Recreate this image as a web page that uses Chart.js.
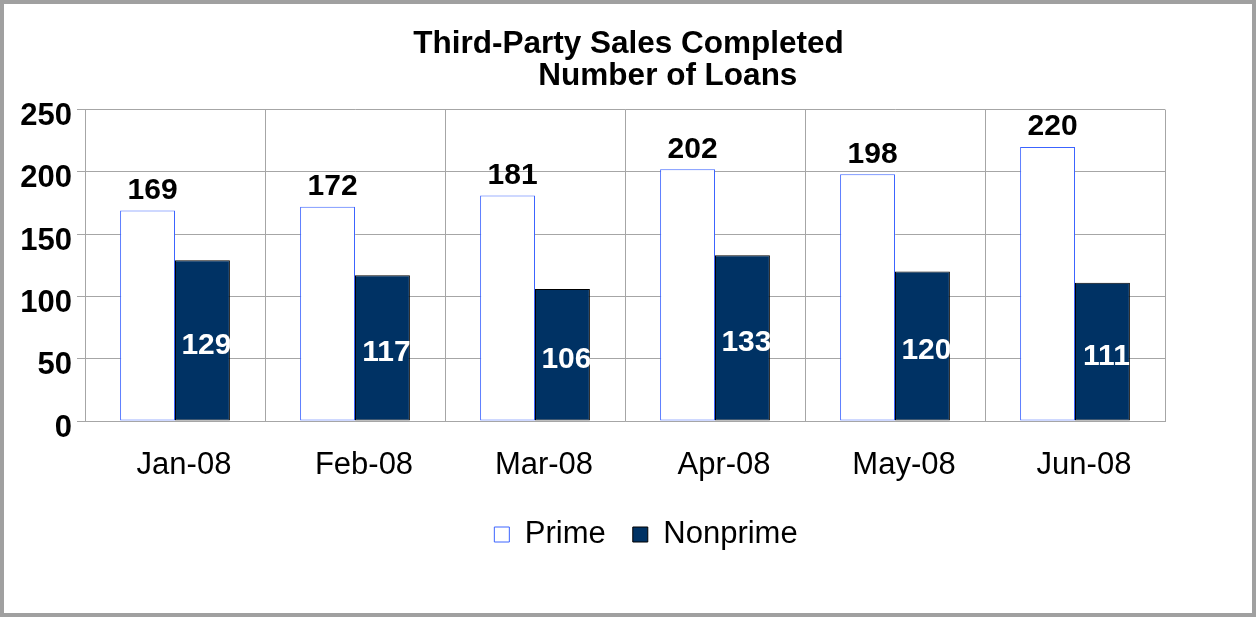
<!DOCTYPE html>
<html>
<head>
<meta charset="utf-8">
<script src="https://cdn.jsdelivr.net/npm/chart.js@4"></script>
<style>
    body { margin: 0; background: #fff; }
    #frame {
        width: 1256px; height: 617px; box-sizing: border-box;
        border: 4px solid #a0a0a0; overflow: hidden; position: relative; background: #fff;
    }
    #salesChart { position: absolute; left: 0; top: 0; }
</style>
</head>
<body>
<div id="frame"><canvas id="salesChart" width="1284" height="609"></canvas></div>
<script>
// Chart data
const months = ['Jan-08', 'Feb-08', 'Mar-08', 'Apr-08', 'May-08', 'Jun-08'];
const primeLoans = [169, 172, 181, 202, 198, 220];
const nonprimeLoans = [129, 117, 106, 133, 120, 111];
const yTicks = [0, 50, 100, 150, 200, 250];

const FONT = '"Liberation Sans", Arial, sans-serif';
const GRID = '#a6a6a6';

// value labels: black above Prime bars, white inside Nonprime bars
const barLabels = {
    id: 'barLabels',
    afterDatasetsDraw(chart) {
        const ctx = chart.ctx;
        ctx.save();
        ctx.font = 'bold 30px ' + FONT;
        ctx.textAlign = 'center';
        ctx.textBaseline = 'middle';
        chart.getDatasetMeta(0).data.forEach((bar, i) => {
            ctx.fillStyle = '#000';
            ctx.fillText(primeLoans[i], bar.x + 5, bar.y - 20);
        });
        chart.getDatasetMeta(1).data.forEach((bar, i) => {
            ctx.save();
            ctx.beginPath();
            ctx.rect(bar.x - bar.width / 2, bar.y, bar.width, bar.base - bar.y);
            ctx.clip();
            ctx.fillStyle = '#fff';
            ctx.fillText(nonprimeLoans[i], bar.x + 4, (bar.y + bar.base) / 2 + 5);
            ctx.restore();
        });
        ctx.restore();
    }
};

new Chart(document.getElementById('salesChart').getContext('2d'), {
    type: 'bar',
    data: {
        labels: months,
        datasets: [{
            label: 'Prime',
            data: primeLoans,
            backgroundColor: '#ffffff',
            borderColor: '#3c64ff',
            borderWidth: 1,
            borderSkipped: false,
            barPercentage: 1,
            categoryPercentage: 0.61
        }, {
            label: 'Nonprime',
            data: nonprimeLoans,
            backgroundColor: '#003264',
            borderColor: '#000000',
            borderWidth: 1,
            borderSkipped: false,
            barPercentage: 1,
            categoryPercentage: 0.61
        }]
    },
    options: {
        responsive: false,
        animation: false,
        layout: { padding: { left: 0, right: 0, top: 0, bottom: 53 } },
        plugins: {
            title: {
                display: true,
                text: ['Third-Party Sales Completed    ', '     Number of Loans'],
                color: '#000',
                font: { family: FONT, size: 31.5, weight: 'bold', lineHeight: 1.025 },
                padding: { top: 24, bottom: 17 }
            },
            legend: {
                position: 'bottom',
                labels: {
                    color: '#000',
                    font: { family: FONT, size: 31 },
                    boxWidth: 15,
                    boxHeight: 15,
                    padding: 27
                }
            },
            tooltip: { enabled: false }
        },
        scales: {
            x: {
                offset: true,
                grid: { color: GRID, offset: true, drawTicks: false },
                border: { color: GRID },
                ticks: { color: '#000', font: { family: FONT, size: 31 }, padding: 26, labelOffset: 9 },
                afterFit: s => { s.height = 71; }
            },
            y: {
                min: 0,
                max: 250,
                grid: { color: GRID, tickLength: 8 },
                border: { color: GRID },
                ticks: { color: '#000', font: { family: FONT, size: 31, weight: 'bold' }, padding: 5, labelOffset: 7 },
                afterBuildTicks: s => { s.ticks = yTicks.map(v => ({ value: v })); },
                afterFit: s => { s.width = 81; }
            },
            // spacer so the plot ends where the reference does
            spacer: {
                type: 'linear',
                position: 'right',
                display: true,
                grid: { display: false },
                border: { display: false },
                ticks: { display: false },
                afterFit: s => { s.width = 123; }
            }
        }
    },
    plugins: [barLabels]
});
</script>
</body>
</html>
